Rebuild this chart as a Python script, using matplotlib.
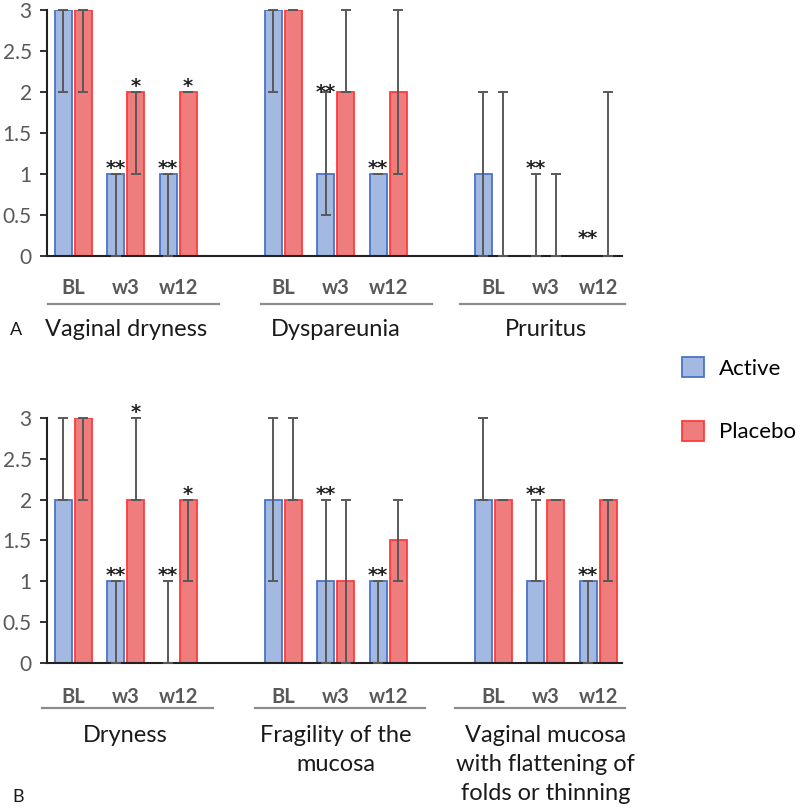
import numpy as np
import matplotlib.pyplot as plt
from matplotlib.patches import Patch
from matplotlib.lines import Line2D

plt.rcParams['font.family'] = ['Lato', 'DejaVu Sans']

# ---------------------------------------------------------------------------
# Data (median scores, error bars given as lower / upper bounds)
# ---------------------------------------------------------------------------
timepoints = ['BL', 'w3', 'w12']

groups_a = ['Vaginal dryness', 'Dyspareunia', 'Pruritus']
active_a = [3, 1, 1, 3, 1, 1, 1, 0, 0]
active_a_lo = [2, 0, 0, 2, 0.5, 1, 0, 0, np.nan]
active_a_hi = [3, 1, 1, 3, 2, 1, 2, 1, np.nan]
placebo_a = [3, 2, 2, 3, 2, 2, 0, 0, 0]
placebo_a_lo = [2, 1, 2, 3, 2, 1, 0, 0, 0]
placebo_a_hi = [3, 2, 2, 3, 3, 3, 2, 1, 2]
# significance marks: (bar index, series, text, height)
stars_a = [(1, 'active', '**', 1.0), (1, 'placebo', '*', 2.0),
           (2, 'active', '**', 1.0), (2, 'placebo', '*', 2.0),
           (4, 'active', '**', 1.93), (5, 'active', '**', 1.0),
           (7, 'active', '**', 1.0), (8, 'active', '**', 0.15)]

groups_b = ['Dryness', 'Fragility of the\nmucosa',
            'Vaginal mucosa\nwith flattening of\nfolds or thinning']
active_b = [2, 1, 0, 2, 1, 1, 2, 1, 1]
active_b_lo = [2, 0, 0, 1, 0, 0, 2, 1, 0]
active_b_hi = [3, 1, 1, 3, 2, 1, 3, 2, 1]
placebo_b = [3, 2, 2, 2, 1, 1.5, 2, 2, 2]
placebo_b_lo = [2, 2, 1, 2, 0, 1, 2, 2, 1]
placebo_b_hi = [3, 3, 2, 3, 2, 2, 2, 2, 2]
stars_b = [(1, 'active', '**', 1.0), (1, 'placebo', '*', 3.0),
           (2, 'active', '**', 1.0), (2, 'placebo', '*', 2.0),
           (4, 'active', '**', 2.0), (5, 'active', '**', 1.0),
           (7, 'active', '**', 2.0), (8, 'active', '**', 1.0)]

# ---------------------------------------------------------------------------
# Style
# ---------------------------------------------------------------------------
ACT_FILL, ACT_EDGE = '#A3B9E1', '#4A74C8'
PLA_FILL, PLA_EDGE = '#F07D7D', '#FF3B3B'
GRAY = '#595959'
BAR_W = 0.32
OFF = 0.19

# x positions: three timepoints per group, one empty slot between groups
xpos = np.array([g * 4 + t for g in range(3) for t in range(3)], dtype=float)


def draw_panel(ax, groups, act, act_lo, act_hi, pla, pla_lo, pla_hi, stars,
               line_spans, tick_y, line_y, label_y, label_va):
    act = np.array(act, dtype=float)
    pla = np.array(pla, dtype=float)
    ax.bar(xpos - OFF, act, BAR_W, color=ACT_FILL, edgecolor=ACT_EDGE, lw=1.3)
    ax.bar(xpos + OFF, pla, BAR_W, color=PLA_FILL, edgecolor=PLA_EDGE, lw=1.3)

    for xs, v, lo, hi in ((xpos - OFF, act, act_lo, act_hi),
                          (xpos + OFF, pla, pla_lo, pla_hi)):
        lo = np.array(lo, dtype=float)
        hi = np.array(hi, dtype=float)
        ok = ~np.isnan(lo)
        ax.errorbar(xs[ok], v[ok], yerr=[v[ok] - lo[ok], hi[ok] - v[ok]],
                    fmt='none', ecolor=GRAY, elinewidth=1.4, capsize=3.8,
                    capthick=1.4, clip_on=False, zorder=3)

    for i, series, txt, y in stars:
        x = xpos[i] + (-OFF if series == 'active' else OFF)
        ax.text(x, y, txt, ha='center', va='baseline', fontsize=14,
                fontfamily='DejaVu Sans', fontweight='bold',
                color='#222222', clip_on=False)

    ax.set_xlim(-0.5, 10.45)
    ax.set_ylim(0, 3)
    ax.set_yticks(np.arange(0, 3.01, 0.5))
    ax.set_yticklabels(['0', '0.5', '1', '1.5', '2', '2.5', '3'])
    ax.tick_params(axis='y', labelsize=15, labelcolor=GRAY, length=5,
                   width=1.3, color='#222222', pad=6)
    ax.set_xticks([])
    for s in ('top', 'right'):
        ax.spines[s].set_visible(False)
    for s in ('left', 'bottom'):
        ax.spines[s].set_linewidth(1.5)
        ax.spines[s].set_color('#222222')

    tr = ax.get_xaxis_transform()
    for k, x in enumerate(xpos):
        ax.text(x, tick_y, timepoints[k % 3], transform=tr, ha='center',
                va='center', fontsize=14.5, fontweight='bold', color=GRAY)
    for g, (x0, x1) in enumerate(line_spans):
        ax.add_line(Line2D([x0, x1], [line_y, line_y], transform=tr,
                           color='#8C8C8C', lw=1.6, clip_on=False))
        ax.text(g * 4 + 1, label_y, groups[g], transform=tr, ha='center',
                va=label_va, fontsize=17, color='#1a1a1a', linespacing=1.48)


fig = plt.figure(figsize=(8.0, 8.11), dpi=100)
ax_a = fig.add_axes([0.05875, 0.6843, 0.7185, 0.3033])
ax_b = fig.add_axes([0.05875, 0.1825, 0.7185, 0.3021])

draw_panel(ax_a, groups_a, active_a, active_a_lo, active_a_hi,
           placebo_a, placebo_a_lo, placebo_a_hi, stars_a,
           [(-0.48, 2.78), (3.58, 6.83), (7.37, 10.51)],
           -0.13, -0.195, -0.30, 'center')
draw_panel(ax_b, groups_b, active_b, active_b_lo, active_b_hi,
           placebo_b, placebo_b_lo, placebo_b_hi, stars_b,
           [(-0.6, 2.66), (3.46, 6.7), (7.27, 10.51)],
           -0.139, -0.184, -0.252, 'top')

fig.text(0.0125, 1 - 330 / 811, 'A', fontsize=13, va='center', ha='left',
         color='#1a1a1a')
fig.text(0.015, 1 - 797 / 811, 'B', fontsize=13, va='center', ha='left',
         color='#1a1a1a')

handles = [Patch(facecolor=ACT_FILL, edgecolor=ACT_EDGE, lw=1.3),
           Patch(facecolor=PLA_FILL, edgecolor=PLA_EDGE, lw=1.3)]
fig.legend(handles, ['Active', 'Placebo'], loc='upper left',
           bbox_to_anchor=(0.827, 1 - 337 / 811), frameon=False, fontsize=16,
           handlelength=1.0, handleheight=1.0, handletextpad=0.7,
           labelspacing=1.9)

fig.savefig('out.png', dpi=100)
